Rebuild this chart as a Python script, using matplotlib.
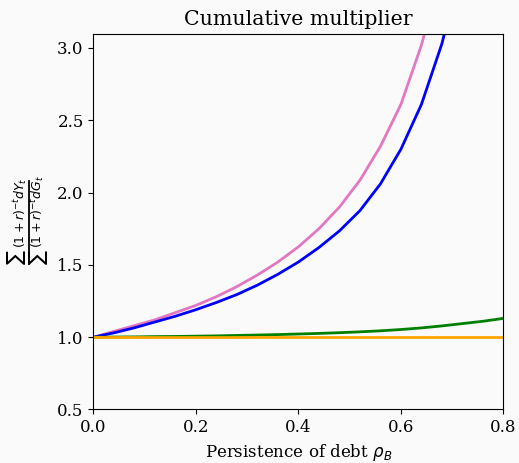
import numpy as np
import matplotlib
matplotlib.use("Agg")
import matplotlib.pyplot as plt
from matplotlib.lines import Line2D

plt.rcParams["font.family"] = "DejaVu Serif"
plt.rcParams["font.size"] = 12

# persistence grid
rho = [0.00, 0.04, 0.08, 0.12, 0.16, 0.20, 0.24, 0.28, 0.32, 0.36, 0.40,
       0.44, 0.48, 0.52, 0.56, 0.60, 0.64, 0.68, 0.72, 0.76, 0.80]

mult_pink = [1.00, 1.04, 1.08, 1.12, 1.17, 1.22, 1.28, 1.35, 1.43, 1.52, 1.625,
             1.75, 1.90, 2.085, 2.32, 2.61, 3.02, 3.55, 4.30, 5.40, 7.00]
mult_blue = [1.00, 1.03, 1.065, 1.105, 1.145, 1.19, 1.24, 1.295, 1.36, 1.435, 1.52,
             1.62, 1.735, 1.875, 2.06, 2.30, 2.61, 3.03, 3.60, 4.40, 5.60]
mult_green = [1.000, 1.001, 1.002, 1.004, 1.005, 1.007, 1.009, 1.012, 1.015, 1.018, 1.022,
              1.026, 1.031, 1.037, 1.044, 1.053, 1.064, 1.078, 1.094, 1.110, 1.130]
mult_orange = [1.0] * len(rho)

W, H = 519, 463
fig = plt.figure(figsize=(W / 100, H / 100), dpi=100, facecolor="#fafafa")
ax = fig.add_axes([0.180, 0.1156, 0.790, 0.812])
ax.set_facecolor("#fafafa")

ax.plot(rho, mult_pink, color="tab:pink", lw=2)
ax.plot(rho, mult_blue, color="blue", lw=2)
ax.plot(rho, mult_green, color="green", lw=2)
ax.plot(rho, mult_orange, color="orange", lw=2)

ax.set_xlim(0, 0.8)
ax.set_ylim(0.5, 3.1)
ax.set_xticks([0.0, 0.2, 0.4, 0.6, 0.8])
ax.set_yticks([0.5, 1.0, 1.5, 2.0, 2.5, 3.0])
ax.set_title("Cumulative multiplier", fontsize=14.8)
ax.set_xlabel(r"Persistence of debt $\rho_B$")


# y label: hand-built fraction with large sum signs (pixel coords, origin top-left)
def ptext(x, y, s, size):
    fig.text(x / W, 1 - y / H, s, rotation=90, ha="center", va="center", fontsize=size)


ptext(17, 257, r"$\sum$", 10.5)
ptext(20, 213, r"$(1+r)^{-t}dY_t$", 9)
ptext(39, 257, r"$\sum$", 10.5)
ptext(37.5, 211.5, r"$(1+r)^{-t}dG_t$", 9)
fig.add_artist(Line2D([28.5 / W, 28.5 / W], [1 - 181 / H, 1 - 264 / H],
                      color="black", lw=1.3, transform=fig.transFigure))

fig.savefig("out.png", dpi=100, facecolor=fig.get_facecolor())
